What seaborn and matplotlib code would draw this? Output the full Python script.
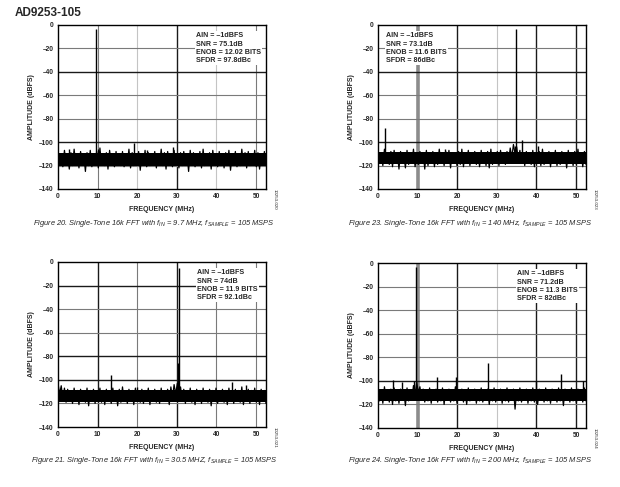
import numpy as np
import pandas as pd
import matplotlib
matplotlib.use("Agg")
import matplotlib.pyplot as plt
import seaborn as sns

sns.set_style("white")
plt.rcParams['font.family'] = ['Liberation Sans', 'DejaVu Sans']
plt.rcParams['mathtext.fontset'] = 'custom'
plt.rcParams['mathtext.rm'] = 'Liberation Sans:italic'
plt.rcParams['mathtext.it'] = 'Liberation Sans:italic'

# ---------------- data ----------------
freq_max = 52.5
x_ticks = [0, 10, 20, 30, 40, 50]
y_ticks = [0, -20, -40, -60, -80, -100, -120, -140]

# noise floor traces: alternating peak / trough values (dBFS)
noise_p1 = [-108,-119,-110,-121,-107,-118,-111,-123,-109,-120,-106,-119,-110,-122,-108,-117,-111,-125,-109,-120,
            -107,-121,-110,-118,-108,-122,-105,-119,-111,-120,-109,-123,-107,-118,-110,-121,-108,-119,-112,-120,
            -108,-121,-110,-118,-106,-122,-109,-120,-111,-119,-108,-124,-110,-118,-107,-121,-109,-120,-111,-117,
            -108,-122,-110,-119,-106,-120,-109,-123,-108,-118,-110,-121,-107,-119,-111,-122,-109,-120,-108,-118,
            -110,-125,-107,-119,-109,-121,-111,-118,-108,-122,-106,-120,-110,-119,-109,-123,-107,-118,-111,-121,
            -108,-120,-110,-122,-109,-119,-107,-124,-111,-118,-108,-121,-110,-120,-106,-119,-109,-122,-108,-120,
            -110,-118,-107,-121,-109,-123,-111,-119,-108,-120]
noise_p2 = [-106,-118,-109,-120,-106,-117,-110,-119,-108,-121,-107,-118,-109,-123,-108,-117,-110,-122,-107,-119,
            -109,-118,-106,-121,-110,-119,-108,-117,-109,-123,-107,-120,-110,-118,-108,-121,-109,-119,-106,-118,
            -110,-120,-108,-117,-107,-122,-109,-118,-110,-120,-108,-119,-106,-121,-109,-118,-107,-120,-110,-117,
            -108,-119,-109,-121,-107,-118,-110,-120,-108,-122,-106,-119,-109,-118,-108,-120,-107,-117,-110,-119,
            -108,-116,-105,-113,-102,-110,-104,-115,-107,-118,-109,-120,-108,-117,-110,-119,-107,-121,-109,-118,
            -108,-120,-106,-119,-110,-117,-108,-121,-109,-118,-107,-120,-110,-119,-108,-117,-109,-122,-107,-118,
            -110,-120,-108,-119,-106,-118,-109,-121,-108,-119]
noise_p3 = [-103,-112,-105,-116,-107,-119,-108,-118,-110,-120,-107,-117,-109,-121,-108,-118,-110,-119,-107,-122,
            -109,-118,-108,-120,-110,-117,-107,-119,-109,-121,-108,-118,-110,-120,-107,-117,-109,-122,-108,-119,
            -106,-118,-110,-120,-108,-117,-109,-121,-107,-118,-110,-119,-108,-120,-109,-117,-107,-121,-110,-118,
            -108,-119,-109,-120,-107,-118,-110,-117,-108,-121,-106,-115,-104,-112,-103,-113,-106,-117,-108,-120,
            -109,-118,-107,-119,-110,-121,-108,-117,-109,-120,-107,-118,-110,-119,-108,-122,-109,-118,-107,-120,
            -110,-117,-108,-119,-109,-121,-107,-118,-110,-120,-108,-117,-109,-119,-106,-121,-110,-118,-108,-120,
            -109,-117,-107,-119,-110,-121,-108,-118,-109,-120]
noise_p4 = [-105,-117,-108,-119,-105,-116,-109,-118,-107,-120,-106,-117,-108,-119,-107,-116,-109,-121,-106,-117,
            -108,-115,-104,-112,-101,-110,-105,-116,-107,-118,-109,-117,-106,-119,-108,-116,-107,-118,-109,-117,
            -106,-120,-108,-116,-107,-118,-109,-117,-105,-119,-108,-116,-107,-118,-109,-120,-106,-117,-108,-116,
            -107,-119,-109,-117,-106,-118,-108,-116,-107,-120,-109,-117,-106,-118,-108,-116,-107,-119,-109,-117,
            -106,-118,-108,-116,-107,-124,-109,-117,-106,-118,-108,-116,-107,-119,-109,-117,-106,-118,-108,-120,
            -107,-116,-109,-118,-106,-117,-108,-119,-107,-116,-109,-118,-106,-117,-108,-121,-107,-116,-109,-118,
            -106,-117,-108,-119,-107,-116,-109,-118,-106,-117]

# dense core of each noise floor (top, bottom) in dBFS
core_p1 = (-109.5, -120)
core_p2 = (-108.5, -119)
core_p3 = (-109, -119)
core_p4 = (-106.5, -117)

# spurs: frequency (MHz) and peak level (dBFS); first one is the fundamental
spur_f_p1 = [9.7, 19.3, 29.0, 10.2, 2.8, 22.5]
spur_a_p1 = [-3.5, -101, -104, -106, -106, -107]
spur_f_p2 = [34.8, 1.8, 36.4, 34.5, 17.0, 40.3]
spur_a_p2 = [-3.5, -88, -98, -103, -106, -103]
spur_f_p3 = [30.5, 13.5, 43.8, 47.4, 20.0, 30.2]
spur_a_p3 = [-5, -96, -102, -104, -106, -86]
spur_f_p4 = [9.5, 27.8, 14.9, 40.0, 46.3, 19.7, 3.8, 9.0, 51.8, 6.0]
spur_a_p4 = [-3, -85, -97, -100, -94, -97, -99, -100, -100, -101]

notes = [
    "AIN = \u20131dBFS\nSNR = 75.1dB\nENOB = 12.02 BITS\nSFDR = 97.8dBc",
    "AIN = \u20131dBFS\nSNR = 73.1dB\nENOB = 11.6 BITS\nSFDR = 86dBc",
    "AIN = \u20131dBFS\nSNR = 74dB\nENOB = 11.9 BITS\nSFDR = 92.1dBc",
    "AIN = \u20131dBFS\nSNR = 71.2dB\nENOB = 11.3 BITS\nSFDR = 82dBc",
]
captions = [
    r"Figure 20. Single-Tone 16k FFT with $f_{IN}$ = 9.7 MHz, $f_{SAMPLE}$ = 105 MSPS",
    r"Figure 23. Single-Tone 16k FFT with $f_{IN}$ = 140 MHz, $f_{SAMPLE}$ = 105 MSPS",
    r"Figure 21. Single-Tone 16k FFT with $f_{IN}$ = 30.5 MHZ, $f_{SAMPLE}$ = 105 MSPS",
    r"Figure 24. Single-Tone 16k FFT with $f_{IN}$ = 200 MHz, $f_{SAMPLE}$ = 105 MSPS",
]
fig_ids = ["10253-020", "10253-023", "10253-021", "10253-024"]

# ---------------- grid styling (scan look of the original) ----------------
G = {"d": ("#1a1a1a", 1.0), "m": ("#7a7a7a", 0.8), "l": ("#c4c4c4", 0.8), "t": ("#8c8c8c", 2.6)}
grid_x = ["m m l d l m".split(), "m t d l d d".split(), "m d m d m m".split(), "m t d l d d".split()]
grid_y = ["m m d m m d m m".split(), "m m d m m d m m".split(),
          "m d m m d d m m".split(), "m m m m m d m m".split()]

# ---------------- layout ----------------
fig = plt.figure(figsize=(6.2, 4.87), dpi=100)
W, H = 620, 487
boxes = [(58, 25, 266, 189), (378, 25, 586, 189), (58, 262, 266, 427), (378, 263, 586, 428)]
note_x = [0.665, 0.04, 0.67, 0.67]
cap_pos = [(154, 224), (470, 224), (154, 460), (470, 461)]

panels = [(noise_p1, core_p1, spur_f_p1, spur_a_p1), (noise_p2, core_p2, spur_f_p2, spur_a_p2),
          (noise_p3, core_p3, spur_f_p3, spur_a_p3), (noise_p4, core_p4, spur_f_p4, spur_a_p4)]

for i, ((noise, core, sf, sa), (l, t, r, b)) in enumerate(zip(panels, boxes)):
    ax = fig.add_axes([l / W, 1 - b / H, (r - l) / W, (b - t) / H])
    fr = np.linspace(0, freq_max, len(noise))
    df = pd.DataFrame({"freq": fr, "amp": noise})
    ax.fill_between(fr, core[1], core[0], color="black", lw=0, zorder=2)
    sns.lineplot(data=df, x="freq", y="amp", ax=ax, color="black", lw=0.9,
                 estimator=None, sort=False, zorder=3)
    ax.vlines(sf, -112, sa, color="black", lw=1.0, zorder=3)
    ax.set_xlim(0, freq_max)
    ax.set_ylim(-140, 0)
    ax.set_xticks(x_ticks)
    ax.set_yticks(y_ticks)
    ax.set_yticklabels([str(v).replace("-", "\u2013") for v in y_ticks])
    for xv, st in zip(x_ticks, grid_x[i]):
        if xv > 0:
            c, w = G[st]
            ax.axvline(xv, color=c, lw=w, zorder=1)
    for yv, st in zip(y_ticks, grid_y[i]):
        if -140 < yv < 0:
            c, w = G[st]
            ax.axhline(yv, color=c, lw=w, zorder=1)
    for s in ax.spines.values():
        s.set_color("black"); s.set_linewidth(1.0); s.set_zorder(5)
    ax.tick_params(axis="both", labelsize=4.8, length=0, pad=3)
    for lab in ax.get_xticklabels() + ax.get_yticklabels():
        lab.set_fontweight("bold")
    ax.set_xlabel("FREQUENCY (MHz)", fontsize=5, fontweight="bold", labelpad=4)
    ax.set_ylabel("AMPLITUDE (dBFS)", fontsize=5, fontweight="bold", labelpad=3)
    ax.text(note_x[i], 0.955, notes[i], transform=ax.transAxes, fontsize=5.1,
            fontweight="bold", va="top", ha="left", linespacing=1.25, zorder=6,
            bbox=dict(facecolor="white", edgecolor="none", pad=0.8))
    fig.text((r + 9) / W, 1 - (b + 10) / H, fig_ids[i], rotation=270, fontsize=3.2,
             ha="center", va="center")
    cx, cy = cap_pos[i]
    fig.text(cx / W, 1 - cy / H, captions[i], fontsize=5.4, style="italic",
             ha="center", va="center")

fig.text(15 / W, 1 - 13 / H, "AD9253-105", fontsize=8.5, fontweight="bold",
         ha="left", va="center")

fig.savefig("out.png", dpi=100)
